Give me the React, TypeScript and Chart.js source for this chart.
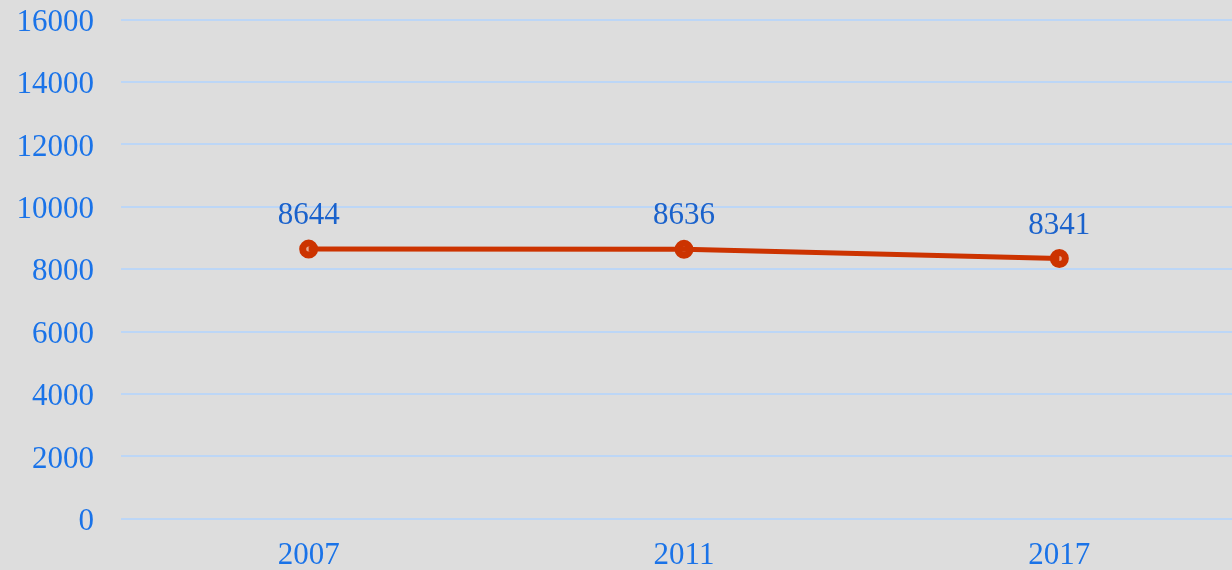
import React, { useEffect, useRef } from "react";
import { Chart, registerables } from "chart.js";

Chart.register(...registerables);

const categories = ["2007", "2011", "2017"];
const values = [8644, 8636, 8341];
const yTicks = [0, 2000, 4000, 6000, 8000, 10000, 12000, 14000, 16000];

const TICK_COLOR = "#1a73e8";
const LABEL_COLOR = "#1a62cc";
const LINE_COLOR = "#cc3300";
const FONT = "'Liberation Serif', 'Times New Roman', serif";

const labelPlugin = {
  id: "valueLabels",
  afterDatasetsDraw(chart: any) {
    const meta = chart.getDatasetMeta(0);
    const ctx = chart.ctx;
    ctx.save();
    ctx.font = `31px ${FONT}`;
    ctx.fillStyle = LABEL_COLOR;
    ctx.textAlign = "center";
    ctx.textBaseline = "middle";
    meta.data.forEach((pt: any, i: number) => {
      ctx.fillText(String(values[i]), pt.x, pt.y - 33);
    });
    ctx.restore();
  },
};

export default function App() {
  const ref = useRef<HTMLCanvasElement>(null);
  useEffect(() => {
    if (!ref.current) return;
    const chart = new Chart(ref.current, {
      type: "line",
      data: {
        labels: categories,
        datasets: [
          {
            data: values,
            borderColor: LINE_COLOR,
            borderWidth: 5,
            pointRadius: 0,
            fill: false,
            tension: 0,
            order: 0,
          },
          {
            data: values,
            showLine: false,
            pointRadius: 6,
            pointBorderWidth: 7,
            pointBorderColor: LINE_COLOR,
            pointBackgroundColor: "#e8a890",
            order: 1,
          },
        ],
      },
      options: {
        animation: false,
        responsive: false,
        maintainAspectRatio: false,
        layout: { padding: { top: 0, right: 12, bottom: 1, left: 0 } },
        plugins: { legend: { display: false }, tooltip: { enabled: false } },
        scales: {
          x: {
            offset: true,
            grid: { display: false, drawTicks: false },
            border: { display: false },
            ticks: { color: TICK_COLOR, font: { family: FONT, size: 31 }, padding: 18 },
          },
          y: {
            min: 0,
            max: 16000,
            afterFit: (s: any) => {
              s.width = 121;
            },
            afterBuildTicks: (s: any) => {
              s.ticks = yTicks.map((v) => ({ value: v }));
            },
            grid: { color: "#bcd6f6", lineWidth: 2, drawTicks: false },
            border: { display: false },
            ticks: {
              color: TICK_COLOR,
              font: { family: FONT, size: 31 },
              padding: 27,
              labelOffset: 3,
              callback: (v: any) => String(v),
            },
          },
        },
      },
      plugins: [labelPlugin],
    });
    return () => chart.destroy();
  }, []);
  return (
    <div
      style={{
        position: "fixed",
        left: 0,
        top: 0,
        width: 1232,
        height: 570,
        overflow: "hidden",
        background: "#dddddd",
      }}
    >
      <canvas ref={ref} width={1260} height={619} style={{ display: "block", marginTop: -26 }} />
    </div>
  );
}
